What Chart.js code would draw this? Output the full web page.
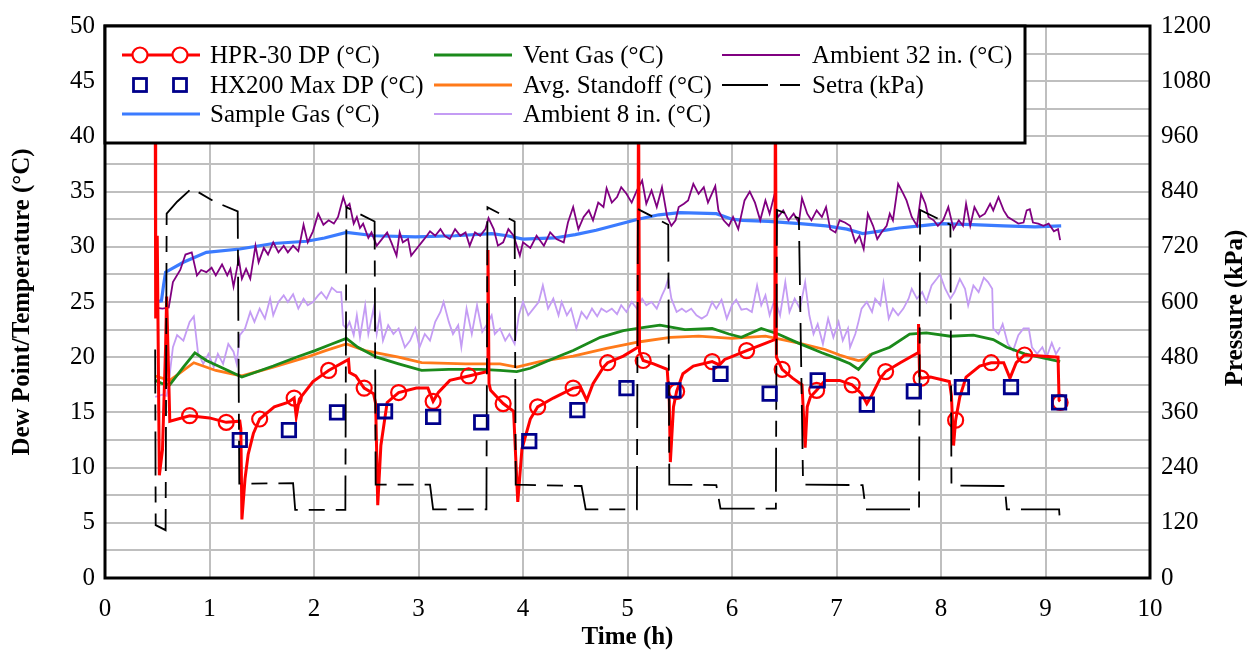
<!DOCTYPE html>
<html><head><meta charset="utf-8">
<script src="https://cdn.jsdelivr.net/npm/chart.js@4.4.1/dist/chart.umd.min.js"></script>
<style>html,body{margin:0;padding:0;background:#fff}canvas{display:block}</style>
</head><body>
<canvas id="c" width="1255" height="653"></canvas>
<script>
// ---------- DATA ----------
const leftTickLabels  = [0,5,10,15,20,25,30,35,40,45,50];
const rightTickLabels = [0,120,240,360,480,600,720,840,960,1080,1200];
const timeTickLabels  = [0,1,2,3,4,5,6,7,8,9,10];

// HPR-30 DP (°C) – continuous trace
const hprTime = [0.48,0.485,0.50,0.52,0.55,0.58,0.59,0.61,0.62,0.81,1.00,1.16,1.29,1.30,1.31,1.34,1.37,1.42,1.48,1.62,1.75,1.81,1.83,1.86,1.99,2.14,2.33,2.34,2.40,2.48,2.57,2.59,2.61,2.64,2.70,2.81,2.98,3.09,3.14,3.19,3.30,3.48,3.66,3.665,3.675,3.69,3.81,3.91,3.93,3.95,3.99,4.07,4.14,4.29,4.48,4.55,4.61,4.67,4.77,4.81,4.96,5.10,5.105,5.115,5.15,5.25,5.38,5.40,5.41,5.44,5.47,5.53,5.63,5.81,5.88,5.93,6.01,6.14,6.33,6.41,6.415,6.425,6.48,6.58,6.67,6.70,6.72,6.75,6.81,6.89,7.03,7.15,7.24,7.29,7.34,7.42,7.47,7.61,7.78,7.785,7.795,7.81,7.90,8.08,8.10,8.12,8.14,8.18,8.24,8.37,8.48,8.60,8.66,8.72,8.80,8.95,9.12,9.13,9.14];
const hprDP   = [46,23.5,31.0,9.3,11.6,21.0,25.5,18.0,14.2,14.7,14.5,14.1,14.2,13.5,5.3,9.0,11.2,13.1,14.4,15.5,15.9,16.3,14.6,16.2,17.8,18.8,19.8,18.6,18.3,17.2,16.7,15.8,6.6,12.0,15.9,16.8,17.2,17.2,16.0,16.8,17.9,18.3,18.7,29.7,17.6,17.0,15.8,15.1,11.0,6.9,11.7,14.4,15.5,16.3,17.2,17.3,16.1,17.6,19.1,19.5,20.1,20.9,46,20.5,19.7,19.4,18.9,16.0,10.5,15.5,16.9,18.5,19.2,19.6,19.3,19.8,20.1,20.6,21.3,21.6,46,20.0,18.9,18.1,17.5,11.8,15.5,16.4,17.0,17.9,17.9,17.5,16.7,15.8,16.6,18.1,18.7,19.5,20.4,23.0,18.3,18.1,18.2,17.8,16.5,12.0,14.3,16.4,18.2,19.2,19.5,19.5,18.1,19.5,20.2,20.1,20.0,16.1,16.0];
// HPR-30 DP marker positions
const hprMarkTime = [0.81,1.16,1.48,1.81,2.14,2.48,2.81,3.14,3.48,3.81,4.14,4.48,4.81,5.15,5.47,5.81,6.14,6.48,6.81,7.15,7.47,7.81,8.14,8.48,8.80,9.14];
const hprMarkDP   = [14.7,14.1,14.4,16.3,18.8,17.2,16.8,16.0,18.3,15.8,15.5,17.2,19.5,19.7,16.9,19.6,20.6,18.9,17.0,17.5,18.7,18.1,14.3,19.5,20.2,15.9];

// HX200 Max DP (°C)
const hxTime = [1.29,1.76,2.22,2.68,3.14,3.60,4.06,4.52,4.99,5.44,5.89,6.36,6.82,7.29,7.74,8.20,8.67,9.13];
const hxDP   = [12.5,13.4,15.0,15.1,14.6,14.1,12.4,15.2,17.2,17.0,18.5,16.7,17.9,15.7,16.9,17.3,17.3,15.9];

// Sample Gas (°C)
const sampleTime = [0.48,0.54,0.56,0.58,0.75,0.97,1.29,1.61,1.93,2.10,2.31,2.58,2.97,3.35,3.70,3.85,4.00,4.30,4.50,4.70,4.90,5.10,5.30,5.50,5.85,6.00,6.10,6.35,6.65,6.90,7.10,7.25,7.40,7.60,7.80,8.00,8.30,8.60,8.90,9.15];
const sampleGas  = [25.0,25.1,26.5,27.7,28.6,29.5,29.8,30.3,30.5,30.8,31.3,31.0,30.9,31.0,31.2,31.0,30.7,30.8,31.1,31.5,32.0,32.5,32.9,33.1,33.0,32.5,32.4,32.3,32.1,31.9,31.6,31.2,31.4,31.7,31.9,32.1,32.0,31.9,31.8,31.9];

// Vent Gas (°C)
const ventTime = [0.48,0.55,0.62,0.75,0.86,0.97,1.13,1.31,1.40,1.61,1.83,2.01,2.17,2.31,2.42,2.60,2.81,3.03,3.29,3.60,3.78,3.94,4.07,4.32,4.48,4.74,4.96,5.16,5.31,5.55,5.81,5.97,6.09,6.28,6.44,6.63,6.86,7.03,7.13,7.21,7.34,7.51,7.70,7.86,8.09,8.31,8.50,8.63,8.80,9.14];
const ventGas  = [17.9,17.6,17.5,19.1,20.4,19.7,19.0,18.2,18.5,19.2,20.0,20.6,21.2,21.7,20.9,20.0,19.4,18.8,18.9,18.9,18.8,18.7,19.0,20.0,20.6,21.8,22.4,22.7,22.9,22.5,22.6,22.1,21.8,22.6,22.1,21.3,20.4,19.8,19.4,18.9,20.3,20.9,22.1,22.2,21.9,22.0,21.6,20.9,20.3,19.6];

// Avg. Standoff (°C)
const standoffTime = [0.48,0.62,0.85,1.06,1.31,1.61,1.93,2.11,2.31,2.49,2.81,3.03,3.45,3.78,3.94,4.16,4.48,4.80,5.12,5.41,5.68,6.00,6.32,6.63,6.89,7.03,7.13,7.21,7.27,7.33];
const standoff     = [18.3,17.9,19.5,18.8,18.3,19.1,20.0,20.6,21.2,20.6,20.0,19.5,19.4,19.4,19.1,19.6,20.1,20.8,21.4,21.8,21.9,21.7,21.9,21.3,20.7,20.2,19.9,19.7,19.8,20.3];

// Ambient 8 in. (°C)
const amb8Time = [0.48,0.55,0.59,0.62,0.65,0.69,0.75,0.81,0.85,0.89,0.94,0.99,1.04,1.08,1.13,1.18,1.23,1.26,1.29,1.34,1.39,1.43,1.48,1.53,1.58,1.61,1.66,1.71,1.75,1.80,1.85,1.90,1.94,1.99,2.04,2.07,2.12,2.17,2.22,2.26,2.28,2.31,2.34,2.38,2.41,2.44,2.49,2.52,2.57,2.60,2.63,2.66,2.71,2.76,2.81,2.87,2.92,2.97,3.01,3.06,3.11,3.16,3.21,3.24,3.29,3.33,3.38,3.41,3.46,3.51,3.56,3.61,3.65,3.70,3.73,3.78,3.83,3.87,3.92,3.96,4.00,4.05,4.10,4.15,4.19,4.24,4.29,4.34,4.37,4.42,4.46,4.51,4.56,4.61,4.66,4.71,4.75,4.80,4.85,4.90,4.94,4.99,5.04,5.09,5.14,5.18,5.23,5.28,5.33,5.36,5.39,5.42,5.47,5.52,5.56,5.61,5.66,5.71,5.76,5.81,5.85,5.90,5.95,6.00,6.04,6.09,6.14,6.19,6.24,6.28,6.32,6.36,6.41,6.46,6.51,6.55,6.60,6.65,6.70,6.74,6.78,6.82,6.87,6.92,6.97,7.02,7.06,7.11,7.13,7.18,7.21,7.24,7.29,7.34,7.37,7.42,7.45,7.50,7.54,7.59,7.64,7.69,7.72,7.77,7.82,7.86,7.91,7.96,7.99,8.04,8.09,8.13,8.18,8.23,8.26,8.31,8.36,8.41,8.45,8.49,8.50,8.55,8.59,8.64,8.69,8.74,8.79,8.84,8.87,8.92,8.97,9.01,9.06,9.10,9.14];
const amb8     = [16.4,16.6,16.5,18.5,20.9,22.0,21.5,23.2,23.7,20.4,19.4,20.3,19.1,20.3,19.4,21.2,20.5,19.4,22.0,22.6,24.1,23.2,24.4,23.5,25.3,23.8,25.0,25.6,25.0,25.7,24.4,25.3,24.7,25.0,25.6,25.9,25.3,26.3,25.9,25.9,22.9,22.6,23.2,22.0,23.8,21.8,24.7,22.1,24.4,22.1,23.8,21.5,22.9,22.1,22.6,20.9,21.5,22.6,20.9,22.1,21.5,23.2,24.1,25.0,23.2,22.1,22.9,20.9,24.4,22.1,24.7,22.3,22.9,23.8,22.1,22.6,21.5,22.1,21.2,23.8,25.0,23.8,24.4,25.0,26.5,24.4,25.3,23.8,25.0,23.8,24.4,22.6,24.1,23.5,24.4,23.7,24.4,24.1,24.4,23.9,24.7,24.1,25.0,24.4,25.3,24.7,25.0,24.4,25.6,26.2,27.1,25.3,24.1,24.4,24.1,24.4,23.8,23.5,23.8,25.0,24.4,25.2,23.5,24.7,25.2,24.3,24.4,24.1,26.5,24.7,25.6,23.8,25.3,23.8,26.8,24.1,25.3,24.4,26.8,23.8,22.1,23.0,21.2,23.5,21.8,23.2,21.5,22.6,20.9,22.1,23.2,24.4,25.0,24.1,25.3,24.7,26.7,23.5,24.4,23.8,24.4,25.3,26.2,25.3,25.9,25.0,26.5,27.1,27.5,26.2,25.3,25.9,27.1,26.2,24.7,26.5,25.9,27.2,26.8,26.2,22.6,22.1,23.0,21.2,20.6,22.0,22.6,22.6,20.9,20.3,20.9,20.0,21.3,20.3,20.9];

// Ambient 32 in. (°C)
const amb32Time = [0.48,0.55,0.61,0.65,0.72,0.77,0.83,0.88,0.92,0.97,1.02,1.06,1.12,1.17,1.20,1.23,1.28,1.31,1.35,1.39,1.44,1.47,1.52,1.56,1.61,1.66,1.71,1.75,1.80,1.85,1.90,1.94,1.99,2.04,2.09,2.14,2.19,2.23,2.28,2.31,2.34,2.38,2.41,2.44,2.47,2.52,2.55,2.60,2.65,2.70,2.74,2.79,2.82,2.85,2.90,2.93,2.98,3.03,3.08,3.11,3.16,3.21,3.25,3.30,3.35,3.40,3.45,3.49,3.54,3.59,3.64,3.67,3.72,3.76,3.81,3.86,3.91,3.97,4.00,4.07,4.13,4.20,4.26,4.32,4.39,4.43,4.48,4.53,4.58,4.63,4.67,4.72,4.77,4.80,4.85,4.90,4.94,4.99,5.04,5.09,5.14,5.18,5.23,5.28,5.33,5.38,5.42,5.46,5.49,5.54,5.58,5.63,5.68,5.73,5.77,5.84,5.87,5.92,5.97,6.01,6.06,6.12,6.17,6.22,6.27,6.32,6.36,6.40,6.44,6.49,6.54,6.59,6.64,6.67,6.72,6.76,6.81,6.86,6.90,6.94,6.99,7.03,7.08,7.13,7.18,7.22,7.26,7.30,7.35,7.39,7.43,7.48,7.51,7.54,7.59,7.64,7.67,7.72,7.77,7.81,7.85,7.88,7.93,7.97,8.02,8.07,8.12,8.17,8.21,8.24,8.28,8.32,8.37,8.42,8.47,8.50,8.55,8.60,8.64,8.69,8.74,8.79,8.82,8.85,8.88,8.93,8.98,9.03,9.08,9.12,9.14];
const amb32     = [24.5,24.4,24.5,26.8,27.9,29.3,29.5,27.4,27.9,27.7,28.1,27.4,28.4,27.4,28.0,26.4,28.9,27.1,28.0,27.1,30.1,28.6,29.9,29.3,30.4,29.5,30.1,29.5,30.1,29.6,32.0,30.4,31.4,33.0,32.0,32.4,32.1,32.7,34.5,33.6,33.9,32.1,32.7,31.7,32.1,30.8,31.3,30.1,30.7,31.3,30.4,29.2,31.3,30.4,30.7,29.2,29.8,30.4,31.0,31.4,31.0,31.6,31.0,30.7,31.6,31.0,31.3,30.1,31.3,31.0,31.6,32.6,31.6,30.1,30.4,31.6,31.0,29.2,30.4,29.9,31.0,30.1,31.3,30.7,30.4,32.2,33.6,31.6,32.7,33.3,32.4,34.0,33.6,35.3,34.0,34.5,35.4,34.8,34.0,35.1,36.0,33.9,35.1,33.6,35.4,32.7,31.9,32.4,33.6,33.9,34.2,35.7,34.8,35.4,34.0,35.5,33.3,32.4,31.9,32.7,31.6,34.2,35.0,34.0,32.4,34.2,33.0,34.5,32.7,33.3,32.4,33.0,32.2,34.4,33.0,32.4,33.3,32.7,33.6,31.6,31.3,32.4,32.2,31.9,30.4,31.0,29.8,33.0,31.9,30.7,31.3,31.9,33.0,32.4,35.7,34.8,34.2,32.7,31.9,34.8,33.9,32.7,32.4,31.9,32.4,33.6,31.6,32.4,31.9,33.9,31.9,33.6,32.7,33.0,33.9,33.3,34.5,33.3,32.7,32.4,32.1,32.2,33.3,33.4,32.2,32.1,31.9,32.1,31.4,31.6,30.6];

// Setra (kPa) – right axis
const setraTime = [0.48,0.485,0.58,0.59,0.69,0.83,1.05,1.27,1.285,1.80,1.82,2.30,2.31,2.58,2.59,3.11,3.14,3.65,3.66,3.92,3.93,4.56,4.60,5.09,5.10,5.39,5.40,5.85,5.89,6.42,6.43,6.64,6.68,7.25,7.28,7.79,7.80,8.09,8.10,8.61,8.63,9.13,9.14];
const setraKPa  = [497,115,104,792,818,847,818,797,205,206,148,148,806,775,203,203,149,149,806,775,203,200,149,149,802,768,203,202,151,151,800,782,203,202,149,149,800,768,201,200,149,149,118];

// ---------- CHART ----------
const FONT = "'Liberation Serif','Times New Roman',serif";
const FS = 25;
const pts = (xs, ys) => xs.map((t, i) => ({x: t, y: ys[i]}));

const COLORS = {
  hpr: '#ff0000', hx: '#00008b', sample: '#3b7bff', vent: '#1b8a1b',
  standoff: '#ff7a1a', amb8: '#c49cf4', amb32: '#800080', setra: '#000000'
};
const SETRA_DASH = [44, 11, 16, 11];

const legendItems = [
  {col: 0, row: 0, label: 'HPR-30 DP (°C)', kind: 'lineCircle', color: COLORS.hpr},
  {col: 0, row: 1, label: 'HX200 Max DP (°C)', kind: 'squares', color: COLORS.hx},
  {col: 0, row: 2, label: 'Sample Gas (°C)', kind: 'line', color: COLORS.sample, w: 3.2},
  {col: 1, row: 0, label: 'Vent Gas (°C)', kind: 'line', color: COLORS.vent, w: 2.8},
  {col: 1, row: 1, label: 'Avg. Standoff (°C)', kind: 'line', color: COLORS.standoff, w: 2.8},
  {col: 1, row: 2, label: 'Ambient 8 in. (°C)', kind: 'line', color: COLORS.amb8, w: 2},
  {col: 2, row: 0, label: 'Ambient 32 in. (°C)', kind: 'line', color: COLORS.amb32, w: 2},
  {col: 2, row: 1, label: 'Setra (kPa)', kind: 'dash', color: COLORS.setra, w: 2}
];

const framePlugin = {
  id: 'frameLegend',
  afterDatasetsDraw(chart) {
    const {ctx, chartArea: a} = chart;
    ctx.save();
    // plot frame
    ctx.lineWidth = 3; ctx.strokeStyle = '#000';
    ctx.strokeRect(a.left, a.top, a.right - a.left, a.bottom - a.top);
    // legend box
    const bx = a.left, by = a.top, bw = 920, bh = 117;
    ctx.fillStyle = '#fff';
    ctx.fillRect(bx, by, bw, bh);
    ctx.strokeRect(bx, by, bw, bh);
    const colSample = [17, 329, 617], colText = [105, 418, 707], rowY = [29, 59, 88];
    const L = 78;
    ctx.font = FS + 'px ' + FONT;
    ctx.textBaseline = 'middle';
    ctx.textAlign = 'left';
    legendItems.forEach(it => {
      const x0 = bx + colSample[it.col], y0 = by + rowY[it.row];
      ctx.setLineDash([]);
      if (it.kind === 'line' || it.kind === 'lineCircle') {
        ctx.strokeStyle = it.color; ctx.lineWidth = it.w || 3;
        ctx.beginPath(); ctx.moveTo(x0, y0); ctx.lineTo(x0 + L, y0); ctx.stroke();
      }
      if (it.kind === 'lineCircle') {
        ctx.lineWidth = 2.2; ctx.fillStyle = '#fff';
        [18, 58].forEach(dx => { ctx.beginPath(); ctx.arc(x0 + dx, y0, 7.5, 0, Math.PI * 2); ctx.fill(); ctx.stroke(); });
      }
      if (it.kind === 'squares') {
        ctx.strokeStyle = it.color; ctx.lineWidth = 2.8;
        [18, 58].forEach(dx => ctx.strokeRect(x0 + dx - 6.5, y0 - 6.5, 13, 13));
      }
      if (it.kind === 'dash') {
        ctx.strokeStyle = it.color; ctx.lineWidth = it.w;
        ctx.beginPath(); ctx.moveTo(x0, y0); ctx.lineTo(x0 + 46, y0);
        ctx.moveTo(x0 + 58, y0); ctx.lineTo(x0 + L, y0); ctx.stroke();
      }
      ctx.fillStyle = '#000';
      ctx.fillText(it.label, bx + colText[it.col], y0 + 1);
    });
    // right axis title (reads bottom-to-top)
    ctx.save();
    ctx.translate(1236, (a.top + a.bottom) / 2 + 6);
    ctx.rotate(-Math.PI / 2);
    ctx.font = 'bold ' + FS + 'px ' + FONT;
    ctx.textAlign = 'center';
    ctx.fillText('Pressure (kPa)', 0, 0);
    ctx.restore();
    ctx.restore();
  }
};

const lineDs = (label, xs, ys, color, width, order, extra) => Object.assign({
  label, data: pts(xs, ys), borderColor: color, backgroundColor: color,
  borderWidth: width, pointRadius: 0, tension: 0, order, yAxisID: 'y'
}, extra || {});

new Chart(document.getElementById('c'), {
  type: 'line',
  data: {
    datasets: [
      lineDs('Ambient 8 in. (°C)', amb8Time, amb8, COLORS.amb8, 1.8, 9),
      lineDs('Sample Gas (°C)', sampleTime, sampleGas, COLORS.sample, 3.2, 8),
      lineDs('Ambient 32 in. (°C)', amb32Time, amb32, COLORS.amb32, 1.8, 7),
      lineDs('Avg. Standoff (°C)', standoffTime, standoff, COLORS.standoff, 2.8, 6),
      lineDs('Vent Gas (°C)', ventTime, ventGas, COLORS.vent, 2.8, 5),
      lineDs('HPR-30 DP (°C)', hprTime, hprDP, COLORS.hpr, 3, 4),
      lineDs('HPR-30 DP markers', hprMarkTime, hprMarkDP, COLORS.hpr, 2.2, 3,
        {showLine: false, pointRadius: 7.5, pointStyle: 'circle', pointBorderWidth: 2.2,
         pointBackgroundColor: 'rgba(0,0,0,0)', pointBorderColor: COLORS.hpr}),
      lineDs('Setra (kPa)', setraTime, setraKPa, COLORS.setra, 1.8, 2,
        {yAxisID: 'y2', borderDash: SETRA_DASH}),
      lineDs('HX200 Max DP (°C)', hxTime, hxDP, COLORS.hx, 2.8, 1,
        {showLine: false, pointRadius: 9.5, pointStyle: 'rect', pointBorderWidth: 2.8,
         pointBackgroundColor: 'rgba(0,0,0,0)', pointBorderColor: COLORS.hx})
    ]
  },
  options: {
    responsive: false,
    animation: false,
    layout: {padding: {top: 16, left: 0, right: 0, bottom: 0}},
    plugins: {legend: {display: false}, tooltip: {enabled: false}},
    scales: {
      x: {
        type: 'linear', min: 0, max: 10,
        afterFit: s => { s.height = 75; },
        ticks: {stepSize: 1, autoSkip: false, maxRotation: 0, padding: 16, color: '#000',
                font: {family: FONT, size: FS},
                callback: v => timeTickLabels.includes(v) ? String(v) : ''},
        grid: {color: '#bfbfbf', lineWidth: 2, drawTicks: false},
        border: {display: false},
        title: {display: true, text: 'Time (h)', color: '#000',
                font: {family: FONT, size: FS, weight: 'bold'}, padding: {top: 0, bottom: 0}}
      },
      y: {
        type: 'linear', position: 'left', min: 0, max: 50,
        afterFit: s => { s.width = 105; },
        ticks: {stepSize: 2.5, autoSkip: false, padding: 10, color: '#000',
                font: {family: FONT, size: FS},
                callback: v => leftTickLabels.includes(v) ? String(v) : ''},
        grid: {color: '#bfbfbf', lineWidth: 2, drawTicks: false},
        border: {display: false},
        title: {display: true, text: 'Dew Point/Temperature (°C)', color: '#000',
                font: {family: FONT, size: FS, weight: 'bold'}, padding: {top: 8, bottom: 0}}
      },
      y2: {
        type: 'linear', position: 'right', min: 0, max: 1200,
        afterFit: s => { s.width = 105; },
        ticks: {stepSize: 120, autoSkip: false, padding: 11, color: '#000',
                font: {family: FONT, size: FS},
                callback: v => rightTickLabels.includes(v) ? String(v) : ''},
        grid: {drawOnChartArea: false, drawTicks: false},
        border: {display: false}
      }
    }
  },
  plugins: [framePlugin]
});
</script>
</body></html>
